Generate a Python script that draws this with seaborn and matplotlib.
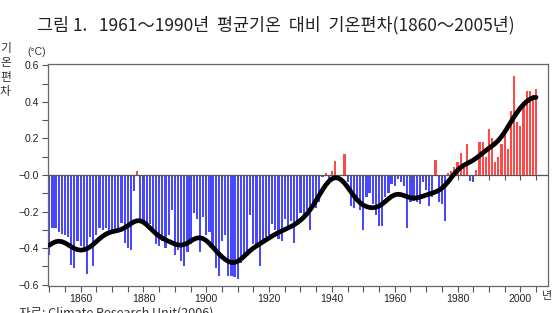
import numpy as np
import pandas as pd
import matplotlib
matplotlib.use("Agg")
import matplotlib.pyplot as plt
from matplotlib.ticker import MultipleLocator, FuncFormatter
import seaborn as sns

# ---- data (global temperature anomaly vs 1961-1990, degC) ----
years = list(range(1850, 2006))
anomaly = [
    -0.44, -0.29, -0.29, -0.31, -0.32, -0.33, -0.34, -0.49, -0.51, -0.36,   # 1850s
    -0.39, -0.41, -0.54, -0.34, -0.50, -0.33, -0.29, -0.30, -0.29, -0.31,   # 1860s
    -0.30, -0.31, -0.29, -0.26, -0.37, -0.40, -0.41, -0.09, 0.02, -0.25,    # 1870s
    -0.26, -0.29, -0.27, -0.30, -0.38, -0.39, -0.36, -0.40, -0.33, -0.19,   # 1880s
    -0.44, -0.41, -0.47, -0.50, -0.42, -0.38, -0.21, -0.24, -0.42, -0.23,   # 1890s
    -0.33, -0.31, -0.40, -0.51, -0.55, -0.36, -0.33, -0.55, -0.55, -0.56,   # 1900s
    -0.57, -0.48, -0.45, -0.44, -0.22, -0.38, -0.40, -0.50, -0.38, -0.34,   # 1910s
    -0.33, -0.27, -0.30, -0.35, -0.36, -0.24, -0.29, -0.25, -0.37, -0.27,   # 1920s
    -0.21, -0.24, -0.19, -0.30, -0.17, -0.18, -0.15, -0.01, 0.01, -0.02,    # 1930s
    0.02, 0.075, -0.01, 0.00, 0.115, -0.04, -0.17, -0.18, -0.14, -0.19,     # 1940s
    -0.30, -0.12, -0.10, -0.16, -0.22, -0.28, -0.28, -0.12, -0.10, -0.05,   # 1950s
    -0.06, -0.02, -0.04, -0.06, -0.29, -0.15, -0.14, -0.15, -0.16, -0.04,   # 1960s
    -0.08, -0.17, -0.12, 0.08, -0.15, -0.16, -0.25, 0.01, 0.02, 0.045,      # 1970s
    0.07, 0.12, 0.05, 0.17, -0.03, -0.04, 0.03, 0.18, 0.18, 0.10,           # 1980s
    0.25, 0.20, 0.07, 0.10, 0.17, 0.25, 0.14, 0.35, 0.54, 0.29,             # 1990s
    0.27, 0.40, 0.46, 0.46, 0.44, 0.47,                                     # 2000s
]
ytick_vals = [0.6, 0.4, 0.2, 0.0, -0.2, -0.4, -0.6]
xtick_years = [1860, 1880, 1900, 1920, 1940, 1960, 1980, 2000]

title = "그림 1.   1961～1990년  평균기온  대비  기온편차(1860～2005년)"
ylab = "기\n온\n편\n차"
unit = "(°C)"
xunit = "년"
source = "자료: Climate Research Unit(2006)"

BLUE = "#4848ff"
RED = "#ff4848"

df = pd.DataFrame({"year": years, "anom": anomaly})
df["sign"] = np.where(df["anom"] >= 0, "pos", "neg")

# smoothed curve: gaussian filter of the annual series
# (first value repeated at the start, series reflected at the end)
vals = df["anom"].to_numpy()
sigma = 3.3
half = 12
k = np.arange(-half, half + 1)
w = np.exp(-k**2 / (2 * sigma**2))
w /= w.sum()
padded = np.concatenate([np.repeat(vals[0], half), vals, vals[-2:-half - 2:-1]])
df["smooth"] = np.convolve(padded, w, mode="valid")

sns.set_theme(style="white")
plt.rcParams["font.family"] = ["Liberation Sans", "Noto Sans CJK KR", "DejaVu Sans"]

fig = plt.figure(figsize=(5.54, 3.13), dpi=100)
ax = fig.add_axes([0.0861, 0.0863, 0.903, 0.709])

sns.barplot(data=df, x="year", y="anom", hue="sign",
            palette={"pos": RED, "neg": BLUE}, native_scale=True,
            dodge=False, width=0.7, legend=False, errorbar=None,
            saturation=1, linewidth=0, ax=ax)

ax.axhline(0, color="#555555", lw=0.9, zorder=3)
zero_ticks = list(range(1850, 2010, 5))
ax.plot(zero_ticks, [0] * len(zero_ticks),
        ls="none", marker=3, ms=3.5, mew=0.8, color="#555555", zorder=3)

sns.lineplot(data=df, x="year", y="smooth", color="black", lw=3.4, ax=ax, zorder=5)

ax.set_xlim(1849.5, 2008.8)
ax.set_ylim(-0.607, 0.607)
ax.set_xlabel("")
ax.set_ylabel("")

ax.set_xticks(xtick_years)
ax.set_xticklabels([str(y) for y in xtick_years])
ax.xaxis.set_minor_locator(MultipleLocator(5))
ax.set_yticks(ytick_vals)
ax.yaxis.set_major_formatter(FuncFormatter(
    lambda v, p: ("−0.0" if abs(v) < 1e-9 else f"{v:.1f}".replace("-", "−"))))
ax.yaxis.set_minor_locator(MultipleLocator(0.1))

ax.tick_params(axis="both", which="both", direction="out", color="#555555",
               width=0.8, labelsize=7.5, labelcolor="#222222", pad=2, length=4)
ax.tick_params(axis="x", which="both", bottom=True, top=False)
ax.tick_params(axis="y", which="both", left=True, right=False)

for s in ax.spines.values():
    s.set_color("#666666")
    s.set_linewidth(0.9)

fig.text(0.497, 0.92, title, ha="center", va="center", fontsize=12.5,
         color="#222222", family=["Noto Sans CJK KR", "DejaVu Sans"])
fig.text(0.0, 0.865, ylab, ha="left", va="top", fontsize=8.5,
         linespacing=1.12, color="#333333", family=["Noto Sans CJK KR", "DejaVu Sans"])
fig.text(0.05, 0.835, unit, ha="left", va="center", fontsize=7.5, color="#333333")
fig.text(0.979, 0.054, xunit, ha="left", va="center", fontsize=8,
         color="#333333", family=["Noto Sans CJK KR", "DejaVu Sans"])
fig.text(0.035, 0.022, source, ha="left", va="top", fontsize=9,
         color="#333333", family=["Noto Sans CJK KR", "DejaVu Sans"])

fig.savefig("out.png", dpi=100)
